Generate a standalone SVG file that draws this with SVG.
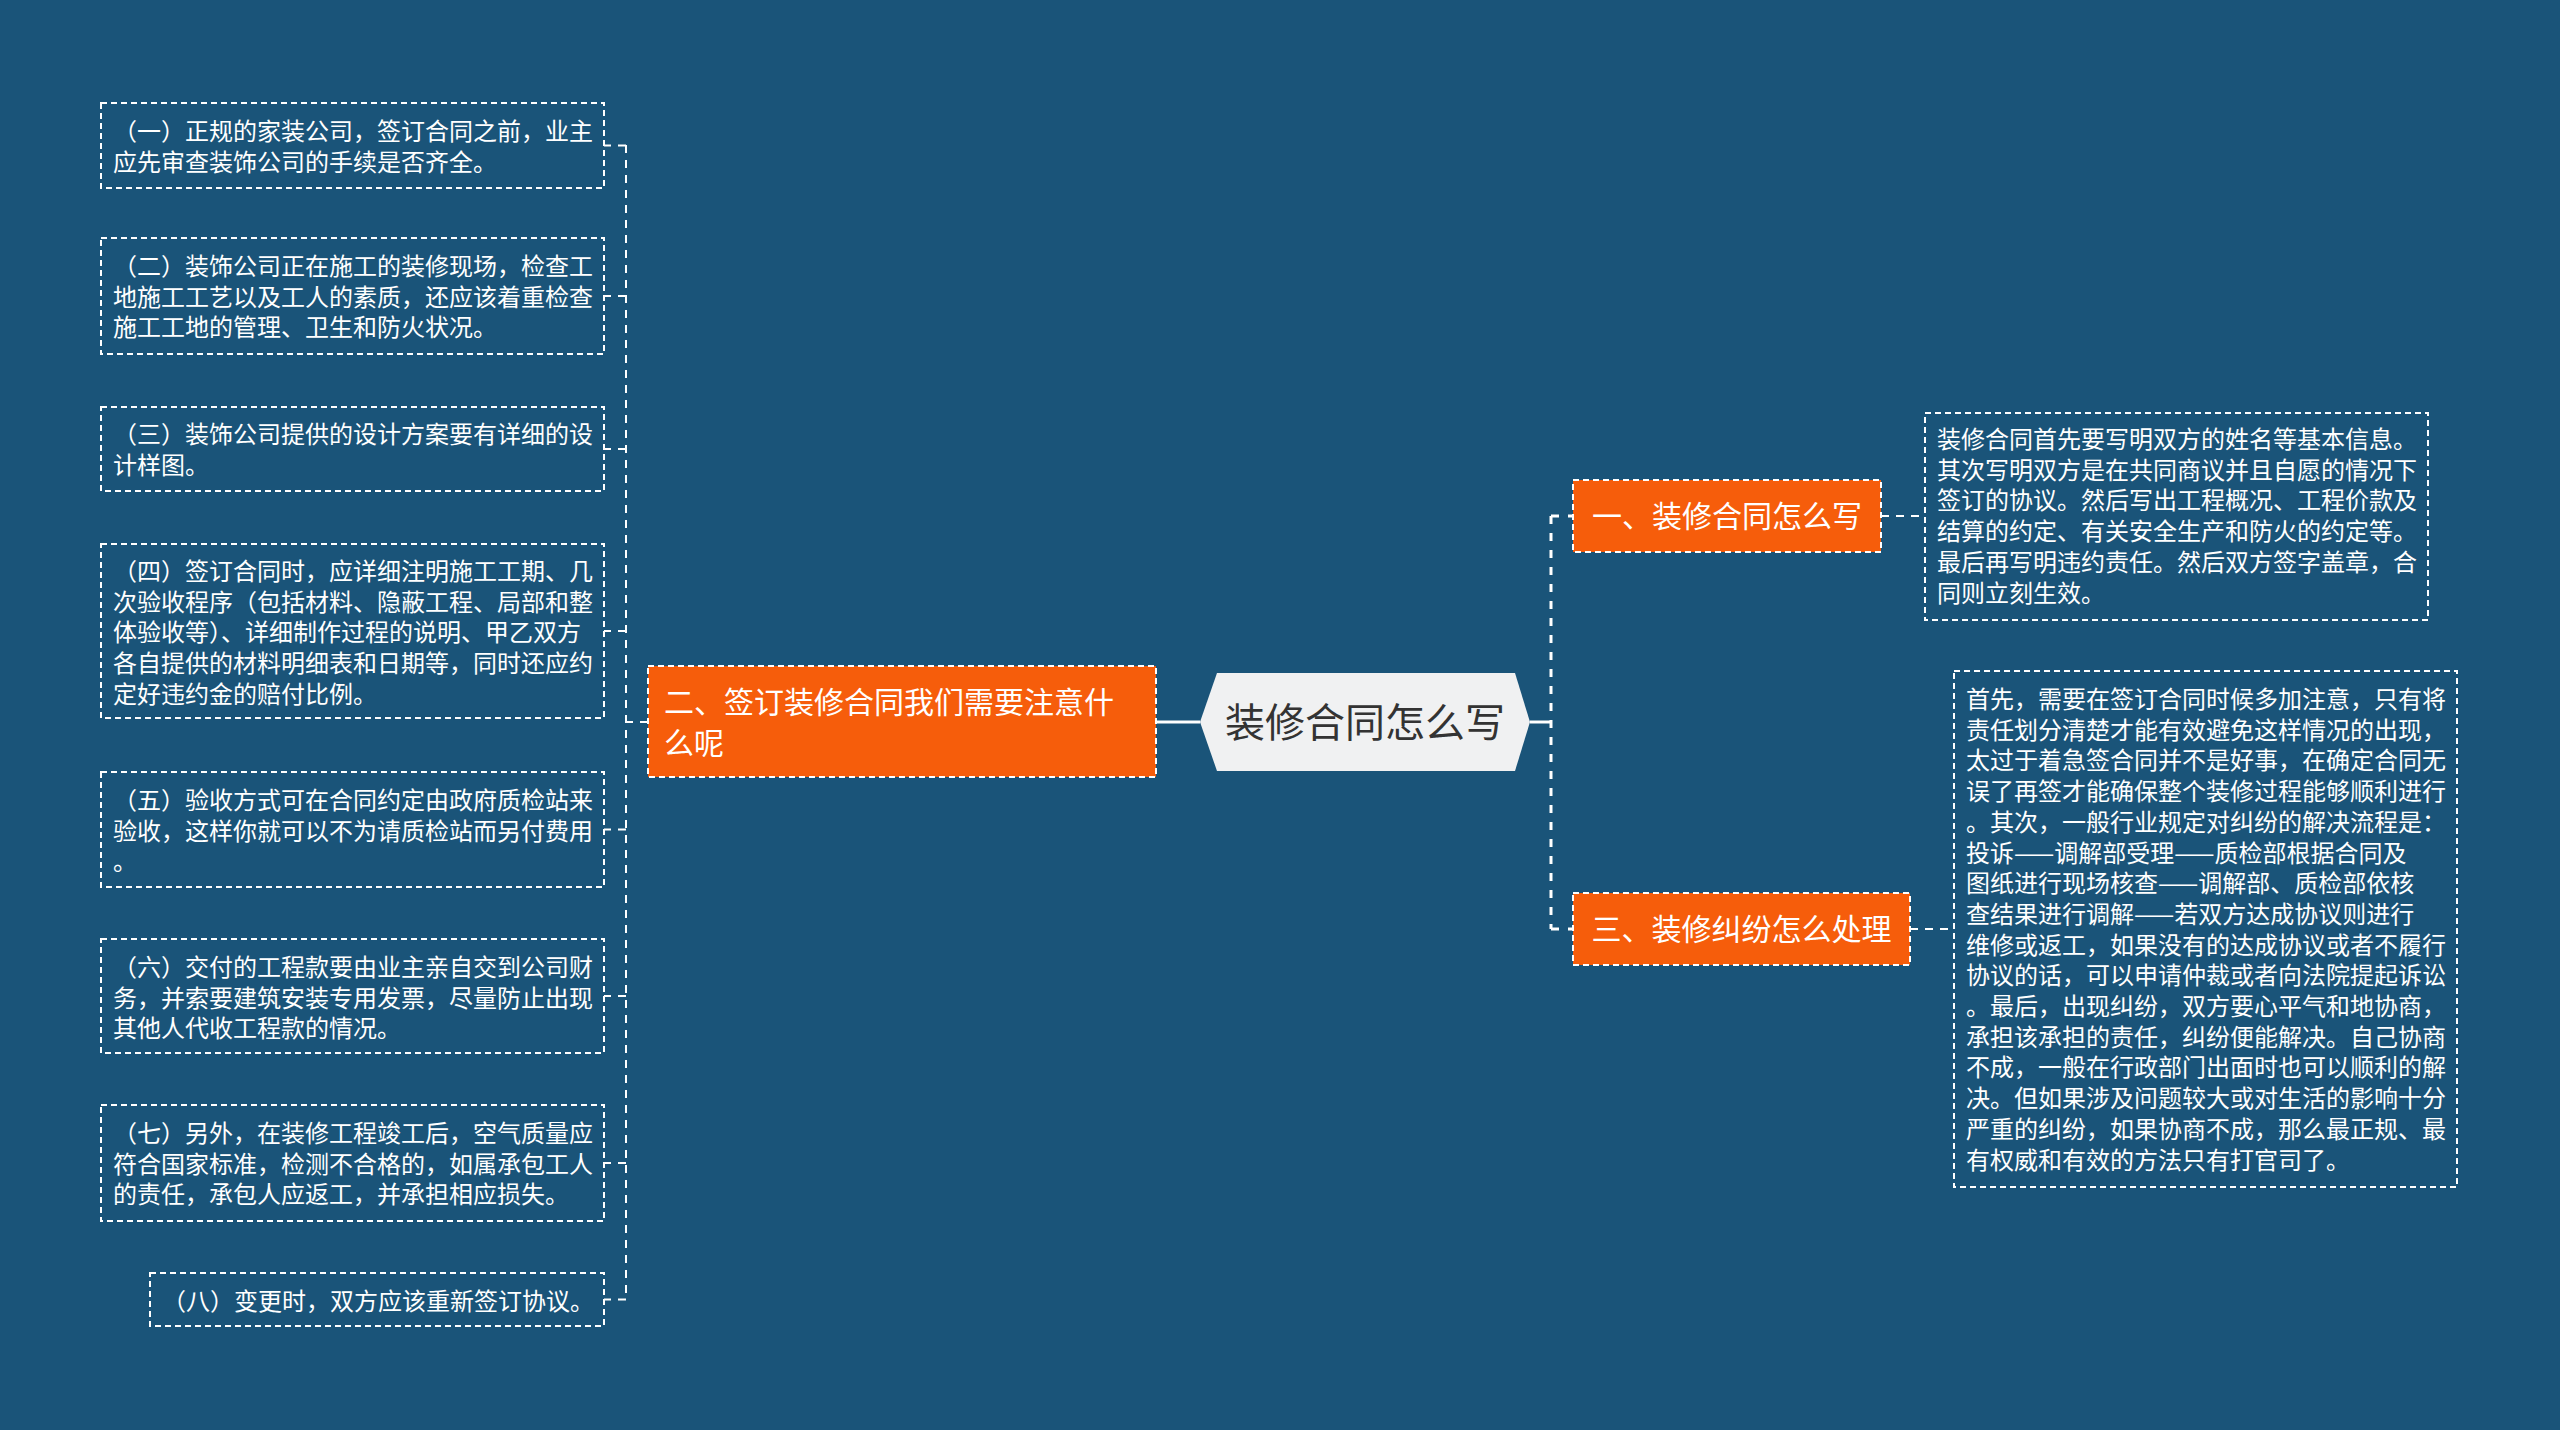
<svg xmlns="http://www.w3.org/2000/svg" width="2560" height="1430" viewBox="0 0 2560 1430">
<style>
.bg{fill:#1A5479}
.leaf{fill:none;stroke:#FFFFFF;stroke-width:2;stroke-dasharray:6 4}
.branch{fill:#F65D0B;stroke:#FFFFFF;stroke-width:2;stroke-dasharray:6 4}
.center{fill:#F0F1F2}
.lt{font-family:"Noto Sans CJK SC","Microsoft YaHei",sans-serif;font-size:24px;fill:#FFFFFF}
.bt{font-family:"Noto Sans CJK SC","Microsoft YaHei",sans-serif;font-size:30px;fill:#FFFFFF}
.ct{font-family:"Noto Sans CJK SC","Microsoft YaHei",sans-serif;font-size:40px;fill:#333333}
.cl{fill:none;stroke:#FFFFFF;stroke-width:2;stroke-dasharray:8 7}
.cr{fill:none;stroke:#FFFFFF;stroke-width:3;stroke-dasharray:8 9}
.cs{fill:none;stroke:#FFFFFF;stroke-width:3}
</style>
<rect class="bg" x="0" y="0" width="2560" height="1430"/>

<g id="connectors">
  <path class="cs" d="M1156 722 H1200"/>
  <path class="cs" d="M1530 722 H1551"/>
  <path class="cl" d="M626 145 V1300"/>
  <path class="cl" d="M648 722 H626"/>
  <path class="cl" d="M626 145.5 H604"/>
  <path class="cl" d="M626 296 H604"/>
  <path class="cl" d="M626 449 H604"/>
  <path class="cl" d="M626 631 H604"/>
  <path class="cl" d="M626 829.5 H604"/>
  <path class="cl" d="M626 996 H604"/>
  <path class="cl" d="M626 1163 H604"/>
  <path class="cl" d="M626 1299.5 H604"/>
  <path class="cr" d="M1551 516 V929"/>
  <path class="cr" d="M1551 516 H1573"/>
  <path class="cr" d="M1551 929 H1573"/>
  <path class="cl" d="M1881 516 H1925"/>
  <path class="cl" d="M1910 929 H1954"/>
</g>

<g id="center">
  <polygon class="center" points="1200,722 1217,673 1515,673 1530,722 1515,771 1217,771"/>
  <text class="ct" x="1365" y="737" text-anchor="middle">装修合同怎么写</text>
</g>

<g id="branch2">
  <rect class="branch" x="648" y="666" width="508" height="111"/>
  <text class="bt" x="664" y="713">二、签订装修合同我们需要注意什</text>
  <text class="bt" x="664" y="754">么呢</text>
</g>

<g id="branch1">
  <rect class="branch" x="1573" y="480" width="308" height="72"/>
  <text class="bt" x="1727" y="527" text-anchor="middle">一、装修合同怎么写</text>
</g>

<g id="branch3">
  <rect class="branch" x="1573" y="893" width="337" height="72"/>
  <text class="bt" x="1741.5" y="940" text-anchor="middle">三、装修纠纷怎么处理</text>
</g>

<g id="leaf-l1">
  <rect class="leaf" x="101" y="103" width="503" height="85"/>
  <text class="lt" x="113" y="140">（一）正规的家装公司，签订合同之前，业主</text>
  <text class="lt" x="113" y="170.7">应先审查装饰公司的手续是否齐全。</text>
</g>
<g id="leaf-l2">
  <rect class="leaf" x="101" y="238" width="503" height="116"/>
  <text class="lt" x="113" y="275">（二）装饰公司正在施工的装修现场，检查工</text>
  <text class="lt" x="113" y="305.7">地施工工艺以及工人的素质，还应该着重检查</text>
  <text class="lt" x="113" y="336.4">施工工地的管理、卫生和防火状况。</text>
</g>
<g id="leaf-l3">
  <rect class="leaf" x="101" y="407" width="503" height="84"/>
  <text class="lt" x="113" y="443">（三）装饰公司提供的设计方案要有详细的设</text>
  <text class="lt" x="113" y="473.7">计样图。</text>
</g>
<g id="leaf-l4">
  <rect class="leaf" x="101" y="544" width="503" height="174"/>
  <text class="lt" x="113" y="580">（四）签订合同时，应详细注明施工工期、几</text>
  <text class="lt" x="113" y="610.7">次验收程序（包括材料、隐蔽工程、局部和整</text>
  <text class="lt" x="113" y="641.4">体验收等）、详细制作过程的说明、甲乙双方</text>
  <text class="lt" x="113" y="672.1">各自提供的材料明细表和日期等，同时还应约</text>
  <text class="lt" x="113" y="702.8">定好违约金的赔付比例。</text>
</g>
<g id="leaf-l5">
  <rect class="leaf" x="101" y="772" width="503" height="115"/>
  <text class="lt" x="113" y="809">（五）验收方式可在合同约定由政府质检站来</text>
  <text class="lt" x="113" y="839.7">验收，这样你就可以不为请质检站而另付费用</text>
  <text class="lt" x="113" y="870.4">。</text>
</g>
<g id="leaf-l6">
  <rect class="leaf" x="101" y="939" width="503" height="114"/>
  <text class="lt" x="113" y="976">（六）交付的工程款要由业主亲自交到公司财</text>
  <text class="lt" x="113" y="1006.7">务，并索要建筑安装专用发票，尽量防止出现</text>
  <text class="lt" x="113" y="1037.4">其他人代收工程款的情况。</text>
</g>
<g id="leaf-l7">
  <rect class="leaf" x="101" y="1105" width="503" height="116"/>
  <text class="lt" x="113" y="1142">（七）另外，在装修工程竣工后，空气质量应</text>
  <text class="lt" x="113" y="1172.7">符合国家标准，检测不合格的，如属承包工人</text>
  <text class="lt" x="113" y="1203.4">的责任，承包人应返工，并承担相应损失。</text>
</g>
<g id="leaf-l8">
  <rect class="leaf" x="150" y="1273" width="454" height="53"/>
  <text class="lt" x="162" y="1310">（八）变更时，双方应该重新签订协议。</text>
</g>

<g id="leaf-r1">
  <rect class="leaf" x="1925" y="413" width="503" height="207"/>
  <text class="lt" x="1937" y="448">装修合同首先要写明双方的姓名等基本信息。</text>
  <text class="lt" x="1937" y="478.7">其次写明双方是在共同商议并且自愿的情况下</text>
  <text class="lt" x="1937" y="509.4">签订的协议。然后写出工程概况、工程价款及</text>
  <text class="lt" x="1937" y="540.1">结算的约定、有关安全生产和防火的约定等。</text>
  <text class="lt" x="1937" y="570.8">最后再写明违约责任。然后双方签字盖章，合</text>
  <text class="lt" x="1937" y="601.5">同则立刻生效。</text>
</g>

<g id="leaf-r3">
  <rect class="leaf" x="1954" y="671" width="503" height="516"/>
  <text class="lt" x="1966" y="708">首先，需要在签订合同时候多加注意，只有将</text>
  <text class="lt" x="1966" y="738.7">责任划分清楚才能有效避免这样情况的出现，</text>
  <text class="lt" x="1966" y="769.4">太过于着急签合同并不是好事，在确定合同无</text>
  <text class="lt" x="1966" y="800.1">误了再签才能确保整个装修过程能够顺利进行</text>
  <text class="lt" x="1966" y="830.8">。其次，一般行业规定对纠纷的解决流程是：</text>
  <text class="lt" x="1966" y="861.5">投诉——调解部受理——质检部根据合同及</text>
  <text class="lt" x="1966" y="892.2">图纸进行现场核查——调解部、质检部依核</text>
  <text class="lt" x="1966" y="922.9">查结果进行调解——若双方达成协议则进行</text>
  <text class="lt" x="1966" y="953.6">维修或返工，如果没有的达成协议或者不履行</text>
  <text class="lt" x="1966" y="984.3">协议的话，可以申请仲裁或者向法院提起诉讼</text>
  <text class="lt" x="1966" y="1015">。最后，出现纠纷，双方要心平气和地协商，</text>
  <text class="lt" x="1966" y="1045.7">承担该承担的责任，纠纷便能解决。自己协商</text>
  <text class="lt" x="1966" y="1076.4">不成，一般在行政部门出面时也可以顺利的解</text>
  <text class="lt" x="1966" y="1107.1">决。但如果涉及问题较大或对生活的影响十分</text>
  <text class="lt" x="1966" y="1137.8">严重的纠纷，如果协商不成，那么最正规、最</text>
  <text class="lt" x="1966" y="1168.5">有权威和有效的方法只有打官司了。</text>
</g>
</svg>
